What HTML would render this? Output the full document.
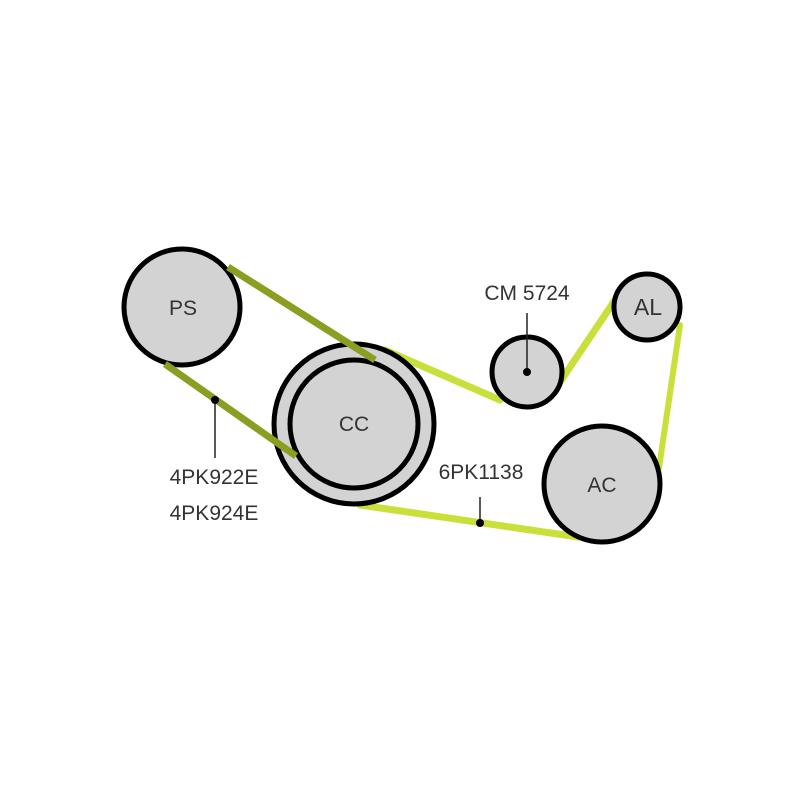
<!DOCTYPE html>
<html><head><meta charset="utf-8"><style>html,body{margin:0;padding:0;background:#fff}svg{display:block}</style></head>
<body>
<svg width="800" height="800" viewBox="0 0 800 800" xmlns="http://www.w3.org/2000/svg" font-family="Liberation Sans, sans-serif">
<g stroke-linecap="round" fill="none">
<line x1="385" y1="350" x2="500" y2="400" stroke="#c9df3a" stroke-width="7"/>
<line x1="560" y1="382" x2="615" y2="300" stroke="#c9df3a" stroke-width="7"/>
<line x1="680" y1="325" x2="659" y2="468" stroke="#c9df3a" stroke-width="6"/>
<line x1="578" y1="537" x2="360" y2="505" stroke="#c9df3a" stroke-width="7"/>
</g>
<g stroke="#000" stroke-width="5" fill="#d3d3d3">
<circle cx="182" cy="307" r="58"/>
<circle cx="354" cy="424" r="80"/>
<circle cx="354" cy="424" r="64"/>
<circle cx="527" cy="372" r="35"/>
<circle cx="647" cy="307" r="33"/>
<circle cx="602" cy="484" r="58"/>
</g>
<g stroke-linecap="butt" fill="none" stroke="#8a9e22" stroke-width="7">
<line x1="228" y1="267" x2="375" y2="360"/>
<line x1="165" y1="364" x2="296" y2="456"/>
</g>
<g stroke="#222" stroke-width="1.5">
<line x1="215" y1="400" x2="215" y2="458"/>
<line x1="527" y1="313" x2="527" y2="372"/>
<line x1="480" y1="497" x2="480" y2="523"/>
</g>
<g fill="#000">
<circle cx="215" cy="400" r="4"/>
<circle cx="527" cy="372" r="4"/>
<circle cx="480" cy="523" r="4"/>
</g>
<g fill="#333" font-size="21" text-anchor="middle">
<text x="183" y="315">PS</text>
<text x="354" y="431">CC</text>
<text x="648" y="315" font-size="23">AL</text>
<text x="602" y="492">AC</text>
<text x="527" y="300">CM 5724</text>
<text x="481" y="479">6PK1138</text>
<text x="214" y="484">4PK922E</text>
<text x="214" y="520">4PK924E</text>
</g>
</svg>
</body></html>
